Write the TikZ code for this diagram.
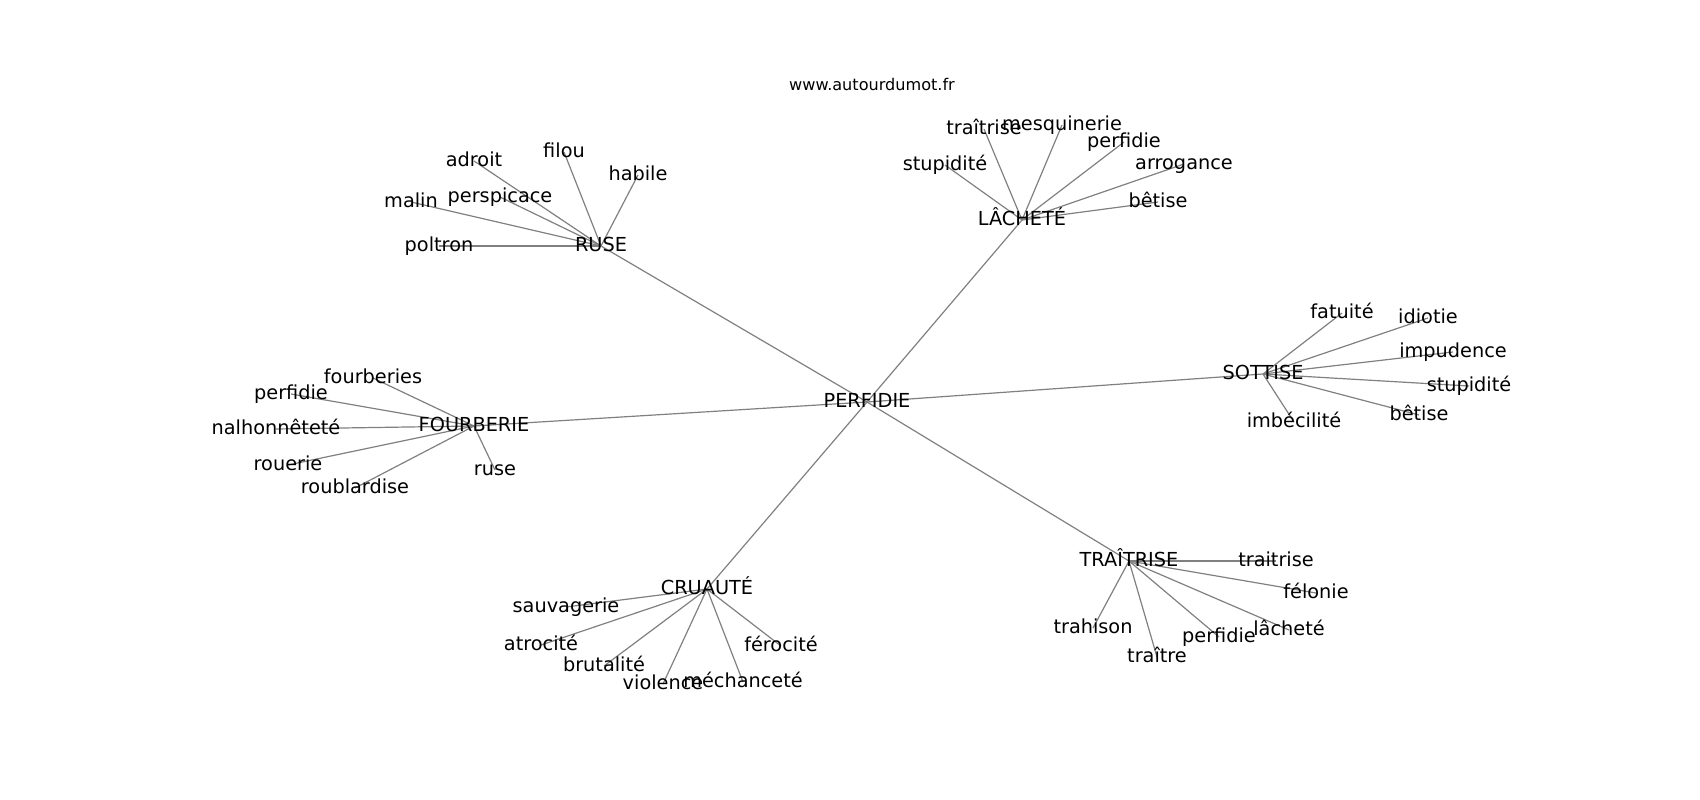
\documentclass[tikz,border=0pt]{standalone}
\usepackage{fontspec}
\setmainfont{DejaVu Sans}
\pgfdeclarelayer{bg}
\pgfsetlayers{bg,main}
\tikzset{word/.style={inner sep=0, text height=14.7pt, text depth=4.55pt,
    font=\fontsize{19.3}{23}\selectfont},
  edge/.style={draw=black!50, line width=1.2pt}}

\begin{document}
\begin{tikzpicture}[x=1pt,y=-1pt]
\useasboundingbox (0,0) rectangle (1700,800);
\node[inner sep=0, font=\fontsize{16.1}{19}\selectfont] (site) at (872,84) {www.autourdumot.fr};
\node[word] (perfidie) at (867,402) {PERFIDIE};
\foreach \x/\y/\n/\w in {601/246/ruse/RUSE, 1022/220/lachete/LÂCHETÉ,
                         1263/374/sottise/SOTTISE, 474/426/fourberie/FOURBERIE,
                         707/589/cruaute/CRUAUTÉ, 1129/561/traitrise/TRAÎTRISE}
    \node[word] (\n) at (\x,\y) {\w};
\foreach \x/\y/\n/\w in {474/161/ru1/adroit, 564/152/ru2/filou, 638/175/ru3/habile,
                         500/197/ru4/perspicace, 411/202/ru5/malin, 439/246/ru6/poltron,
                         984/129/la1/traîtrise, 1062/125/la2/mesquinerie, 1124/142/la3/perfidie,
                         945/165/la4/stupidité, 1184/164/la5/arrogance, 1158/202/la6/bêtise,
                         1342/313/so1/fatuité, 1428/318/so2/idiotie, 1453/352/so3/impudence,
                         1469/386/so4/stupidité, 1419/415/so5/bêtise, 1294/422/so6/imbécilité,
                         373/378/fo1/fourberies, 291/394/fo2/perfidie, 276/429/fo3/nalhonnêteté,
                         288/465/fo4/rouerie, 355/488/fo5/roublardise, 495/470/fo6/ruse,
                         566/607/cr1/sauvagerie, 541/645/cr2/atrocité, 604/666/cr3/brutalité,
                         663/684/cr4/violence, 743/682/cr5/méchanceté, 781/646/cr6/férocité,
                         1276/561/tr1/traitrise, 1316/593/tr2/félonie, 1289/630/tr3/lâcheté,
                         1219/637/tr4/perfidie, 1157/657/tr5/traître, 1093/628/tr6/trahison}
    \node[word] (\n) at (\x,\y) {\w};
\begin{pgfonlayer}{bg}
\foreach \h/\k in {ruse/ru, lachete/la, sottise/so, fourberie/fo, cruaute/cr, traitrise/tr} {
    \draw[edge] (perfidie.center) -- (\h.center);
    \foreach \i in {1,...,6}
        \draw[edge] (\h.center) -- (\k\i.center);
}
\end{pgfonlayer}
\end{tikzpicture}
\end{document}
